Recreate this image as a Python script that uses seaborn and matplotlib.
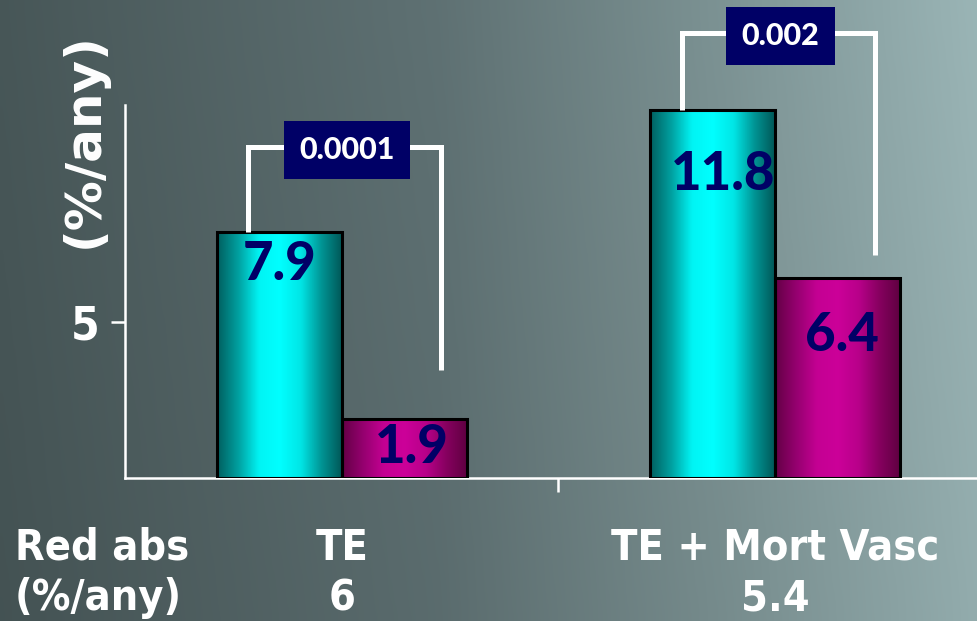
import numpy as np
import pandas as pd
import matplotlib
matplotlib.use("Agg")
import matplotlib.pyplot as plt
from matplotlib.colors import LinearSegmentedColormap
import seaborn as sns

# ---------------- data ----------------
categories = ["TE", "TE + Mort Vasc"]
series = ["A", "B"]
values_a = [7.9, 11.8]
values_b = [1.9, 6.4]
p_values = ["0.0001", "0.002"]
red_abs = ["6", "5.4"]
bracket_top = [10.6, 14.25]
bracket_right_end = [3.45, 7.15]

df = pd.DataFrame({
    "cat": categories * 2,
    "grp": [series[0]] * 2 + [series[1]] * 2,
    "val": values_a + values_b,
})

W, H = 978, 621
fig = plt.figure(figsize=(W / 100, H / 100), dpi=100)

# ---------------- background gradient ----------------
bg = fig.add_axes([0, 0, 1, 1], zorder=0)
stops = [(0.0, "#465556"), (0.45, "#5d6f71"), (0.75, "#7b9192"), (1.0, "#97b1b2")]
cmap_bg = LinearSegmentedColormap.from_list("bg", stops)
gx = np.linspace(0, 1, 400)
grad = cmap_bg(gx)[None, :, :3].repeat(50, axis=0)
shade = np.linspace(1.02, 0.97, 50)[:, None, None]
grad = np.clip(grad * shade, 0, 1)
bg.imshow(grad, extent=[0, 1, 0, 1], aspect="auto", interpolation="bicubic")
bg.set_axis_off()

# ---------------- main axes ----------------
x_left, x_right = 125, 992
y_zero = 478
ax = fig.add_axes([x_left / W, (H - y_zero) / H, (x_right - x_left) / W, y_zero / H], zorder=1)
ax.patch.set_alpha(0)

sns.barplot(data=df, x="cat", y="val", hue="grp", order=categories, hue_order=series,
            palette=["#00ffff", "#cc0099"], width=0.577, saturation=1,
            edgecolor="black", linewidth=2.2, legend=False, ax=ax)

ymax = 478 / 31.2
xlim = (-0.5, 1.5)

cyl = {
    0: LinearSegmentedColormap.from_list("c", ["#005f5f", "#00a0a0", "#00f4f4", "#00ffff", "#00e6e6", "#009494", "#005656"]),
    1: LinearSegmentedColormap.from_list("m", ["#640046", "#95006f", "#c40093", "#cc0099", "#b8008a", "#86005f", "#5e0040"]),
}
bars = [p for p in ax.patches if p.get_height() > 0]
for i, p in enumerate(bars):
    x0, w, h = p.get_x(), p.get_width(), p.get_height()
    g = cyl[i // 2](np.linspace(0, 1, 200))[None, :, :3]
    ax.imshow(g, extent=(x0, x0 + w, 0, h), aspect="auto", zorder=2, interpolation="bicubic")
    p.set_facecolor("none")
    p.set_zorder(3)
ax.set_xlim(*xlim)
ax.set_ylim(0, ymax)

# value labels
navy = "#000066"
label_dy = [[-33, -65], [-29, -57]]
label_dx = [[0, 10], [8, 4]]
for si, vals in enumerate([values_a, values_b]):
    for ci, v in enumerate(vals):
        xc = ci + (si - 0.5) * 0.577 / 2
        ax.annotate(f"{v}", (xc, v), xytext=(label_dx[si][ci] * 0.72, label_dy[si][ci] * 0.72),
                    textcoords="offset points", ha="center", va="center",
                    fontsize=38, fontweight=900, family=["Lato", "DejaVu Sans"],
                    color=navy, zorder=5)

# brackets with p-values
for ci in range(len(categories)):
    xl, xr = ci - 0.216, ci + 0.23
    ax.plot([xl, xl, xr, xr], [values_a[ci], bracket_top[ci], bracket_top[ci], bracket_right_end[ci]],
            color="white", lw=3.6, solid_joinstyle="miter", solid_capstyle="butt", zorder=4)
    ax.annotate(p_values[ci], (ci + 0.012, bracket_top[ci]), xytext=(0, -2), textcoords="offset points",
                ha="center", va="center",
                fontsize=22, fontweight=900, family=["Lato", "DejaVu Sans"], color="white", zorder=6,
                bbox=dict(boxstyle="square,pad=0.5", fc=navy, ec="none"))

# spines and ticks
for s in ["top", "right"]:
    ax.spines[s].set_visible(False)
ax.spines["left"].set_color("white")
ax.spines["left"].set_linewidth(1.8)
ax.spines["left"].set_bounds(0, 11.95)
ax.spines["bottom"].set_color("white")
ax.spines["bottom"].set_linewidth(1.8)

cond = dict(family=["DejaVu Sans"], fontstretch="condensed", fontweight="bold")

ax.set_yticks([5])
ax.set_yticklabels(["5"])
ax.tick_params(axis="y", colors="white", length=10, width=1.8, pad=8, labelsize=33)
for t in ax.get_yticklabels():
    t.set_fontweight("bold")
    t.set_family(["DejaVu Sans"])
    t.set_fontstretch("condensed")

ax.set_xticks([0.5])
ax.set_xticklabels([""])
ax.set_xticks([0, 1], minor=True)
ax.set_xticklabels([f"{c}\n{r}" for c, r in zip(categories, red_abs)], minor=True)
ax.tick_params(axis="x", which="major", colors="white", length=10, width=1.8)
ax.tick_params(axis="x", which="minor", length=0, pad=35, labelsize=31, labelcolor="white")
for t in ax.get_xticklabels(minor=True):
    t.set_fontweight("bold")
    t.set_family(["DejaVu Sans"])
    t.set_fontstretch("condensed")
    t.set_linespacing(1.28)

ax.set_xlabel("")
ax.set_ylabel("(%/any)", color="white", fontsize=36, fontweight="bold", family=["DejaVu Sans"])
ax.yaxis.set_label_coords(-17 / (x_right - x_left), 1 - 140 / y_zero)

fig.text(15 / W, 1 - 548 / H, "Red abs", ha="left", va="center", color="white", fontsize=31, **cond)
fig.text(15 / W, 1 - 598 / H, "(%/any)", ha="left", va="center", color="white", fontsize=31, **cond)

fig.savefig("out.png", dpi=100)
